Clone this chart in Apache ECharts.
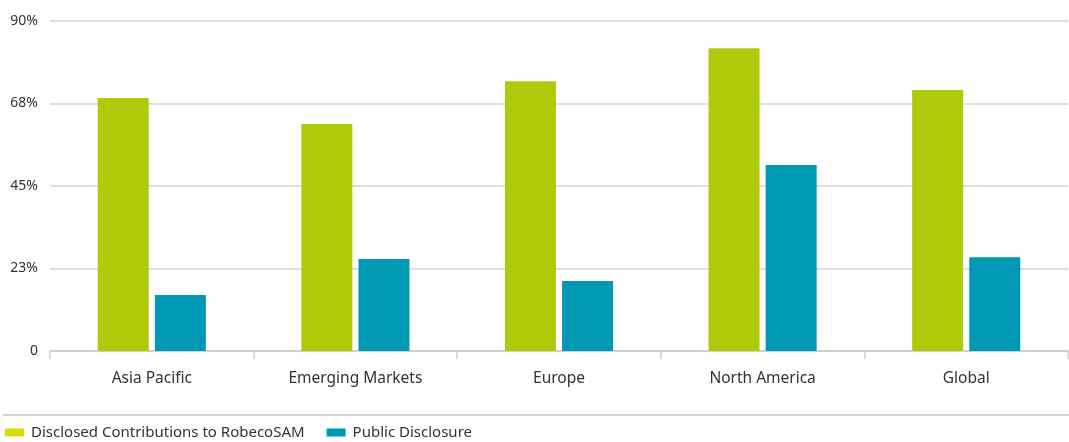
<!DOCTYPE html>
<html>
<head>
<meta charset="utf-8">
<script src="https://cdn.jsdelivr.net/npm/echarts@6/dist/echarts.min.js"></script>
<style>
html, body { margin: 0; padding: 0; background: #fff; }
#chart { width: 1069px; height: 442px; }
</style>
</head>
<body>
<div id="chart"></div>
<script>
// regions along the x axis
var categories = ["Asia Pacific", "Emerging Markets", "Europe", "North America", "Global"];
// share of companies, %
var disclosedContrib = [69.0, 61.9, 73.6, 82.6, 71.2];
var publicDisclosure = [15.3, 25.1, 19.1, 50.7, 25.6];
var seriesNames = ["Disclosed Contributions to RobecoSAM", "Public Disclosure"];

var font = "Noto Sans";
var myChart = echarts.init(document.getElementById("chart"));

var option = {
    backgroundColor: "#fff",
    animation: false,
    textStyle: { fontFamily: font },
    grid: { left: 50, right: 1, top: 21, bottom: 91 },
    legend: {
        left: 5,
        top: 425,
        padding: 0,
        itemWidth: 19,
        itemHeight: 8,
        itemGap: 22,
        icon: "rect",
        textStyle: { fontFamily: font, fontSize: 15, color: "#333", padding: [0, 0, 0, 2] },
        data: [
            { name: seriesNames[0], itemStyle: { color: "#d6dc00" } },
            { name: seriesNames[1], itemStyle: { color: "#0099b5" } }
        ]
    },
    graphic: [
        {
            type: "line",
            shape: { x1: 3, y1: 415, x2: 1069, y2: 415 },
            style: { stroke: "#c8c4c2", lineWidth: 1.5 }
        }
    ],
    xAxis: {
        type: "category",
        data: categories,
        axisLine: { lineStyle: { color: "#cfcbc9", width: 1.5 } },
        axisTick: { show: true, length: 8, lineStyle: { color: "#cfcbc9", width: 1.5 } },
        axisLabel: { fontFamily: font, fontSize: 15.5, color: "#333", margin: 20 }
    },
    yAxis: {
        type: "value",
        min: 0,
        max: 90,
        interval: 22.5,
        axisLine: { show: false },
        axisTick: { show: false },
        splitLine: { lineStyle: { color: "#d6d3d2", width: 1.5 } },
        axisLabel: {
            fontFamily: font,
            fontSize: 14,
            color: "#333",
            margin: 12,
            padding: [0, 0, 6, 0],
            formatter: function (v) {
                return v === 0 ? "0" : Math.round(v) + "%";
            }
        }
    },
    series: [
        {
            name: seriesNames[0],
            type: "bar",
            data: disclosedContrib,
            barWidth: 51,
            barGap: "12%",
            itemStyle: { color: "#afca0b" }
        },
        {
            name: seriesNames[1],
            type: "bar",
            data: publicDisclosure,
            barWidth: 51,
            itemStyle: { color: "#0099b5" }
        }
    ]
};

myChart.setOption(option);
</script>
</body>
</html>
